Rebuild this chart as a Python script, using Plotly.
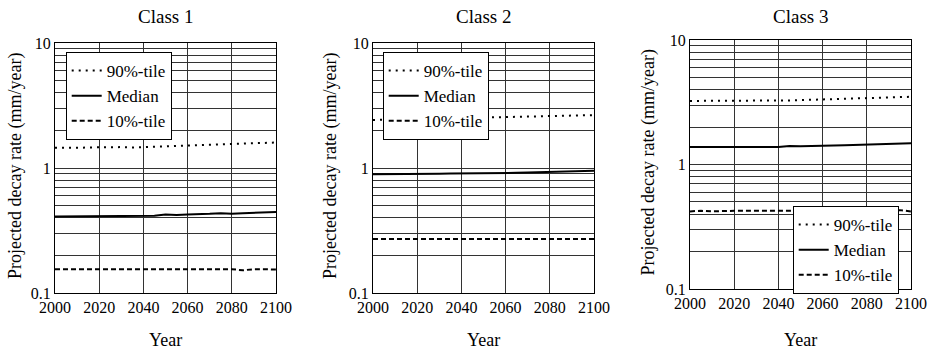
import plotly.graph_objects as go

years = [2000, 2005, 2010, 2015, 2020, 2025, 2030, 2035, 2040, 2045, 2050,
         2055, 2060, 2065, 2070, 2075, 2080, 2085, 2090, 2095, 2100]

c1_p90 = [1.45, 1.44, 1.45, 1.46, 1.47, 1.48, 1.47, 1.46, 1.46, 1.48, 1.49,
          1.50, 1.52, 1.53, 1.54, 1.55, 1.56, 1.57, 1.58, 1.59, 1.60]
c1_med = [0.41, 0.41, 0.41, 0.41, 0.41, 0.41, 0.415, 0.41, 0.41, 0.415, 0.425,
          0.42, 0.425, 0.425, 0.43, 0.435, 0.43, 0.435, 0.44, 0.445, 0.445]
c1_p10 = [0.155, 0.155, 0.153, 0.155, 0.155, 0.153, 0.155, 0.155, 0.155, 0.154, 0.155,
          0.155, 0.154, 0.155, 0.155, 0.153, 0.155, 0.152, 0.155, 0.155, 0.154]

c2_p90 = [2.42, 2.43, 2.44, 2.45, 2.46, 2.47, 2.48, 2.49, 2.50, 2.51, 2.52,
          2.53, 2.55, 2.56, 2.57, 2.58, 2.59, 2.60, 2.61, 2.63, 2.65]
c2_med = [0.89, 0.89, 0.895, 0.895, 0.90, 0.90, 0.90, 0.905, 0.905, 0.905, 0.91,
          0.91, 0.915, 0.915, 0.92, 0.925, 0.935, 0.94, 0.94, 0.945, 0.95]
c2_p10 = [0.27, 0.27, 0.27, 0.27, 0.27, 0.27, 0.27, 0.27, 0.27, 0.27, 0.27,
          0.27, 0.27, 0.27, 0.27, 0.27, 0.27, 0.27, 0.27, 0.27, 0.27]

c3_p90 = [3.24, 3.24, 3.24, 3.24, 3.24, 3.24, 3.24, 3.24, 3.24, 3.27, 3.29,
          3.31, 3.34, 3.36, 3.38, 3.41, 3.44, 3.46, 3.47, 3.49, 3.50]
c3_med = [1.38, 1.38, 1.38, 1.38, 1.38, 1.38, 1.38, 1.38, 1.38, 1.41, 1.40,
          1.41, 1.41, 1.42, 1.43, 1.44, 1.45, 1.46, 1.46, 1.47, 1.48]
c3_p10 = [0.42, 0.425, 0.42, 0.425, 0.425, 0.425, 0.425, 0.42, 0.42, 0.425, 0.43,
          0.43, 0.43, 0.43, 0.43, 0.43, 0.43, 0.43, 0.43, 0.43, 0.42]

titles = ["Class 1", "Class 2", "Class 3"]
series_names = ["90%-tile", "Median", "10%-tile"]
x_ticks = [2000, 2020, 2040, 2060, 2080, 2100]
y_grid = [0.1, 0.2, 0.3, 0.4, 0.5, 0.6, 0.7, 0.8, 0.9,
          1, 2, 3, 4, 5, 6, 7, 8, 9, 10]
y_labels = ["0.1", "", "", "", "", "", "", "", "",
            "1", "", "", "", "", "", "", "", "", "10"]

data = [(c1_p90, c1_med, c1_p10), (c2_p90, c2_med, c2_p10), (c3_p90, c3_med, c3_p10)]

W, H = 931, 354
FONT = "Liberation Serif"
dashes = ["2px,5px", "solid", "5px,3px"]

# pixel layout of panels (left, right, top, bottom)
panels = [(55, 276, 43, 293), (373, 594, 43, 293), (690, 911, 40, 289)]
legend_pos = [(65.7, 52), (382.7, 52), (792.7, 206)]
ytitle_x = [15, 330, 648]

fig = go.Figure()
layout = dict(width=W, height=H, margin=dict(l=0, r=0, t=0, b=0, autoexpand=False),
              paper_bgcolor="white", plot_bgcolor="white",
              font=dict(family=FONT, color="black", size=16),
              annotations=[])

for i, (d, title) in enumerate(zip(data, titles)):
    sfx = "" if i == 0 else str(i + 1)
    leg = "legend" + sfx
    for vals, name, dash in zip(d, series_names, dashes):
        fig.add_trace(go.Scatter(
            x=years, y=vals, name=name, mode="lines",
            line=dict(color="black", width=2, dash=dash),
            xaxis="x" + sfx, yaxis="y" + sfx, legend=leg))
    l, r, t, b = panels[i]
    layout["xaxis" + sfx] = dict(
        domain=[l / W, r / W], anchor="y" + sfx, range=[2000, 2100],
        tickvals=x_ticks, showgrid=True, gridcolor="#333", gridwidth=1,
        showline=True, linecolor="black", linewidth=1, mirror=True,
        ticks="", tickfont=dict(size=16, family=FONT), zeroline=False,
        automargin=False)
    layout["yaxis" + sfx] = dict(
        domain=[1 - b / H, 1 - t / H], anchor="x" + sfx, type="log",
        range=[-1, 1], tickvals=y_grid, ticktext=y_labels,
        showgrid=True, gridcolor="#333", gridwidth=1,
        showline=True, linecolor="black", linewidth=1, mirror=True,
        ticks="", tickfont=dict(size=16, family=FONT), zeroline=False,
        automargin=False)
    lx, ly = legend_pos[i]
    layout[leg] = dict(x=lx / W, y=1 - ly / H, xanchor="left", yanchor="top",
                       xref="paper", yref="paper",
                       bgcolor="white", bordercolor="black", borderwidth=1,
                       font=dict(size=17, family=FONT), tracegroupgap=0,
                       itemwidth=30)
    cx = (l + r) / 2
    layout["annotations"].append(dict(
        text=title, x=cx / W, y=1 - 17 / H, xref="paper", yref="paper",
        showarrow=False, font=dict(size=19, family=FONT),
        xanchor="center", yanchor="middle"))
    layout["annotations"].append(dict(
        text="Year", x=cx / W, y=1 - 340 / H, xref="paper", yref="paper",
        showarrow=False, font=dict(size=18, family=FONT),
        xanchor="center", yanchor="middle"))
    layout["annotations"].append(dict(
        text="Projected decay rate (mm/year)", x=ytitle_x[i] / W,
        y=1 - ((t + b) / 2 - 2) / H, xref="paper", yref="paper",
        showarrow=False, font=dict(size=18, family=FONT), textangle=-90,
        xanchor="center", yanchor="middle"))

fig.update_layout(**layout)
fig.write_html("out.html")
